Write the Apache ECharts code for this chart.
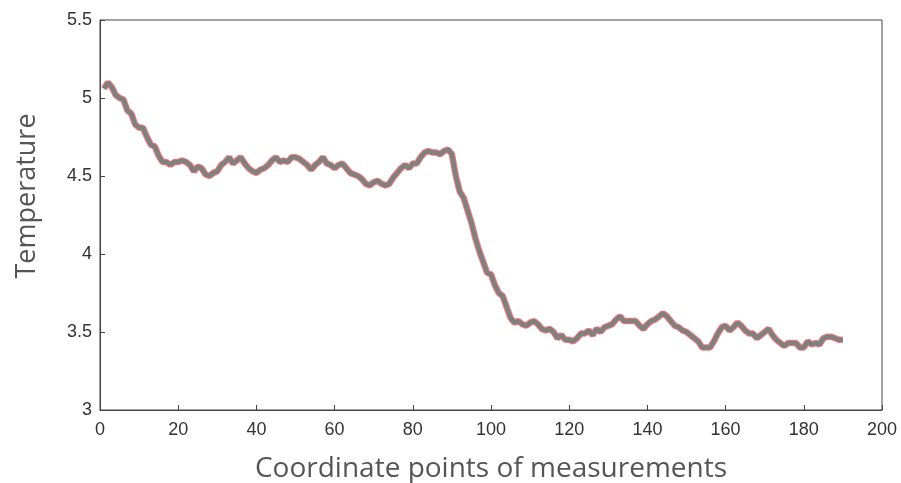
<!DOCTYPE html>
<html>
<head>
<meta charset="utf-8">
<script src="https://cdn.jsdelivr.net/npm/echarts@6/dist/echarts.min.js"></script>
<style>
  html, body { margin: 0; padding: 0; background: #fff; }
  #chart { width: 901px; height: 483px; }
</style>
</head>
<body>
<div id="chart"></div>
<script>
const temps = [
  5.06, 5.10, 5.07, 5.02, 5.00, 4.99, 4.92, 4.90, 4.83, 4.81,
  4.81, 4.75, 4.70, 4.69, 4.63, 4.59, 4.59, 4.57, 4.59, 4.59,
  4.60, 4.59, 4.57, 4.53, 4.56, 4.55, 4.51, 4.50, 4.52, 4.53,
  4.57, 4.59, 4.62, 4.58, 4.60, 4.62, 4.58, 4.55, 4.53, 4.52,
  4.54, 4.55, 4.57, 4.60, 4.62, 4.59, 4.60, 4.59, 4.62, 4.62,
  4.61, 4.59, 4.57, 4.54, 4.57, 4.59, 4.62, 4.58, 4.57, 4.55,
  4.57, 4.58, 4.55, 4.52, 4.51, 4.50, 4.48, 4.45, 4.44, 4.46,
  4.47, 4.45, 4.44, 4.45, 4.49, 4.52, 4.55, 4.57, 4.55, 4.58,
  4.58, 4.62, 4.65, 4.66, 4.65, 4.65, 4.64, 4.66, 4.67, 4.64,
  4.50, 4.40, 4.36, 4.28, 4.20, 4.10, 4.02, 3.95, 3.88, 3.87,
  3.80, 3.75, 3.73, 3.66, 3.59, 3.56, 3.57, 3.55, 3.54, 3.56,
  3.57, 3.55, 3.52, 3.51, 3.52, 3.50, 3.46, 3.48, 3.45, 3.45,
  3.44, 3.46, 3.49, 3.49, 3.51, 3.48, 3.52, 3.50, 3.53, 3.54,
  3.55, 3.58, 3.60, 3.57, 3.57, 3.57, 3.57, 3.54, 3.52, 3.55,
  3.57, 3.58, 3.60, 3.62, 3.60, 3.57, 3.54, 3.53, 3.51, 3.50,
  3.48, 3.46, 3.44, 3.40, 3.40, 3.40, 3.44, 3.49, 3.53, 3.54,
  3.51, 3.53, 3.56, 3.54, 3.51, 3.49, 3.49, 3.46, 3.48, 3.50,
  3.52, 3.48, 3.45, 3.43, 3.41, 3.43, 3.43, 3.43, 3.40, 3.40,
  3.44, 3.42, 3.43, 3.42, 3.46, 3.47, 3.47, 3.46, 3.45, 3.45
];
const points = temps.map(function (v, i) { return [i + 1, v]; });

const xName = 'Coordinate points of measurements';
const yName = 'Temperature';

const chart = echarts.init(document.getElementById('chart'));
const axisColor = '#444';
const option = {
  animation: false,
  grid: {
    left: 100,
    right: 19,
    top: 20,
    bottom: 73,
    outerBoundsMode: 'none',
    show: true,
    borderColor: axisColor,
    borderWidth: 1
  },
  xAxis: {
    type: 'value',
    min: 0,
    max: 200,
    interval: 20,
    name: xName,
    nameLocation: 'middle',
    nameGap: 45,
    nameTextStyle: { fontFamily: 'Open Sans', fontSize: 28, color: '#555' },
    axisLine: { onZero: false, lineStyle: { color: axisColor } },
    axisTick: { inside: true, length: 5, lineStyle: { color: axisColor } },
    axisLabel: { fontFamily: 'Liberation Sans', fontSize: 18, color: '#333', margin: 11 },
    splitLine: { show: false }
  },
  yAxis: {
    type: 'value',
    min: 3,
    max: 5.5,
    interval: 0.5,
    name: yName,
    nameLocation: 'middle',
    nameGap: 59,
    nameTextStyle: { fontFamily: 'Open Sans', fontSize: 27, color: '#555', padding: [0, 0, 0, 38] },
    axisLine: { onZero: false, lineStyle: { color: axisColor } },
    axisTick: { inside: true, length: 5, lineStyle: { color: axisColor } },
    axisLabel: { fontFamily: 'Liberation Sans', fontSize: 18, color: '#333', margin: 8 },
    splitLine: { show: false }
  },
  series: [
    {
      type: 'line',
      data: points,
      symbol: 'none',
      lineStyle: { color: '#f05a5a', width: 6.5, opacity: 0.8 },
      z: 2
    },
    {
      type: 'line',
      data: points,
      symbol: 'none',
      lineStyle: { color: '#808080', width: 4.5 },
      z: 3
    }
  ]
};
chart.setOption(option);
</script>
</body>
</html>
